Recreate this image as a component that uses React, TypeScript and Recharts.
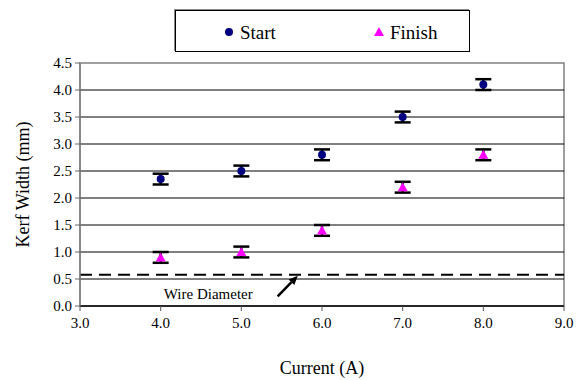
import React from "react";
import {
  ScatterChart,
  Scatter,
  XAxis,
  YAxis,
  ErrorBar,
  ReferenceLine,
  ReferenceArea,
  ReferenceDot,
  Legend,
} from "recharts";

const currents = [4.0, 5.0, 6.0, 7.0, 8.0];
const startWidth = [2.35, 2.5, 2.8, 3.5, 4.1];
const startErr = [0.1, 0.1, 0.1, 0.1, 0.1];
const finishWidth = [0.9, 1.0, 1.4, 2.2, 2.8];
const finishErr = [0.1, 0.1, 0.1, 0.1, 0.1];
const xTicks = [3, 4, 5, 6, 7, 8, 9];
const yTicks = [0, 0.5, 1, 1.5, 2, 2.5, 3, 3.5, 4, 4.5];
const gridValues = [0, 0.5, 1, 1.5, 2, 2.5, 3, 3.5, 4];
const wireDiameter = 0.58;

const FONT = "Times New Roman";

const startData = currents.map((x, i) => ({ x, y: startWidth[i], err: startErr[i] }));
const finishData = currents.map((x, i) => ({ x, y: finishWidth[i], err: finishErr[i] }));

const Dot = (props: any) => (
  <circle cx={props.cx} cy={props.cy} r={4} fill="#000080" />
);

const Tri = (props: any) => {
  const { cx, cy } = props;
  return (
    <polygon
      points={`${cx},${cy - 5} ${cx - 5},${cy + 4} ${cx + 5},${cy + 4}`}
      fill="#FF00FF"
    />
  );
};

const Arrow = (props: any) => {
  const { x1, y1, x2, y2 } = props;
  const a = Math.atan2(y2 - y1, x2 - x1);
  const l = 9;
  const w = 4;
  const bx = x2 - l * Math.cos(a);
  const by = y2 - l * Math.sin(a);
  const px = -Math.sin(a) * w;
  const py = Math.cos(a) * w;
  return (
    <g>
      <line x1={x1} y1={y1} x2={bx} y2={by} stroke="#000" strokeWidth={2.5} />
      <polygon
        points={`${x2},${y2} ${bx + px},${by + py} ${bx - px},${by - py}`}
        fill="#000"
      />
    </g>
  );
};

const LegendBox = () => (
  <div
    style={{
      width: 293,
      height: 40,
      border: "1px solid #000",
      boxShadow: "-1px -1px 0 #888",
      background: "#fff",
      position: "relative",
    }}
  >
    <svg width={293} height={40} style={{ position: "absolute", left: 0, top: 0 }}>
      <circle cx={53} cy={21} r={4} fill="#000080" />
      <polygon points="203,16 198,25 208,25" fill="#FF00FF" />
      <text x={64} y={28} fontFamily={FONT} fontSize={19}>Start</text>
      <text x={214} y={28} fontFamily={FONT} fontSize={19}>Finish</text>
    </svg>
  </div>
);

export default function App() {
  return (
    <div style={{ position: "absolute", left: 0, top: 0, background: "#fff" }}>
      <ScatterChart
        width={585}
        height={380}
        margin={{ top: 21, right: 21, bottom: 0, left: 0 }}
      >
        <ReferenceArea
          x1={3}
          x2={9}
          y1={0}
          y2={4.5}
          fill="none"
          stroke="#808080"
          strokeWidth={1.5}
          ifOverflow="visible"
        />
        {gridValues.map((v) => (
          <ReferenceLine key={v} y={v} stroke="#000" strokeWidth={1} />
        ))}
        <ReferenceLine
          y={wireDiameter}
          stroke="#000"
          strokeWidth={2}
          strokeDasharray="12 7"
        />
        <ReferenceLine
          segment={[
            { x: 5.45, y: 0.18 },
            { x: 5.7, y: 0.56 },
          ]}
          shape={Arrow}
          ifOverflow="visible"
        />
        <ReferenceDot
          x={4.59}
          y={0.22}
          r={0}
          fill="none"
          stroke="none"
          label={{
            value: "Wire Diameter",
            position: "center",
            fill: "#000",
            fontFamily: FONT,
            fontSize: 15,
          }}
        />
        <XAxis
          type="number"
          dataKey="x"
          domain={[3, 9]}
          ticks={xTicks}
          tickFormatter={(v: number) => v.toFixed(1)}
          stroke="#555"
          tick={{ fill: "#000", fontFamily: FONT, fontSize: 15 }}
          tickSize={5}
          tickMargin={6}
          height={74}
          axisLine={{ stroke: "#000" }}
          label={{
            value: "Current (A)",
            position: "insideBottom",
            offset: 6,
            fill: "#000",
            fontFamily: FONT,
            fontSize: 18,
          }}
        />
        <YAxis
          type="number"
          dataKey="y"
          domain={[0, 4.5]}
          ticks={yTicks}
          tickFormatter={(v: number) => v.toFixed(1)}
          stroke="#666"
          tick={{ fill: "#000", fontFamily: FONT, fontSize: 15 }}
          tickSize={5}
          tickMargin={3}
          width={80}
          axisLine={{ stroke: "#808080", strokeWidth: 1.5 }}
          label={{
            value: "Kerf Width (mm)",
            angle: -90,
            position: "insideLeft",
            offset: 23,
            fill: "#000",
            fontFamily: FONT,
            fontSize: 18,
            style: { textAnchor: "middle" },
          }}
        />
        <Legend
          content={LegendBox}
          verticalAlign="top"
          wrapperStyle={{ top: 10, left: 175, width: 295, height: 42 }}
        />
        <Scatter
          name="Start"
          data={startData}
          shape={Dot}
          isAnimationActive={false}
        >
          <ErrorBar dataKey="err" direction="y" width={8} stroke="#000" strokeWidth={2.5} />
        </Scatter>
        <Scatter
          name="Finish"
          data={finishData}
          shape={Tri}
          isAnimationActive={false}
        >
          <ErrorBar dataKey="err" direction="y" width={8} stroke="#000" strokeWidth={2.5} />
        </Scatter>
      </ScatterChart>
    </div>
  );
}
